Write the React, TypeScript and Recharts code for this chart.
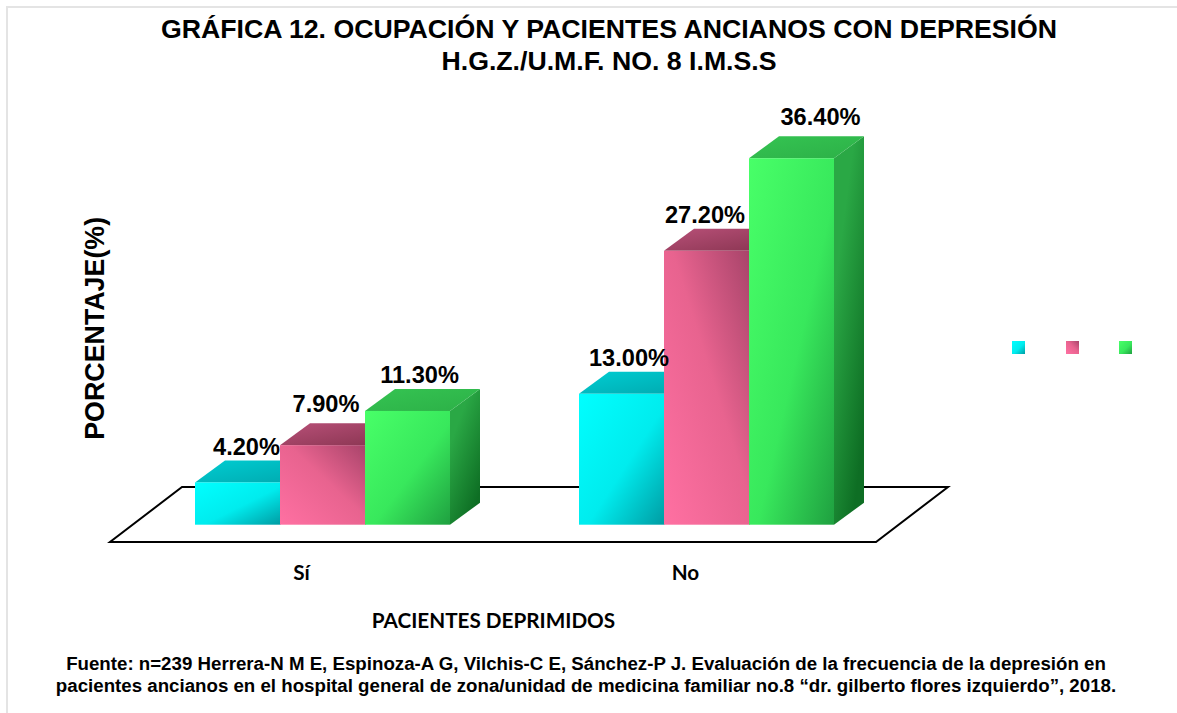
import React from "react";
import { BarChart, Bar, XAxis, YAxis, Legend, LabelList, Label, usePlotArea } from "recharts";

const categories = ["Sí", "No"];
const serieA = [4.2, 13.0];
const serieB = [7.9, 27.2];
const serieC = [11.3, 36.4];
const titleLines = ["GRÁFICA 12. OCUPACIÓN Y PACIENTES ANCIANOS CON DEPRESIÓN", "H.G.Z./U.M.F. NO. 8 I.M.S.S"];
const sourceLines = [
  "Fuente: n=239 Herrera-N M E, Espinoza-A G, Vilchis-C E, Sánchez-P J. Evaluación de la frecuencia de la depresión en",
  "pacientes ancianos en el hospital general de zona/unidad de medicina familiar no.8 “dr. gilberto flores izquierdo”, 2018.",
];

const data = categories.map((c, i) => ({ c, a: serieA[i], b: serieB[i], c3: serieC[i] }));

const DX = 30;
const DY = 22;
const ARIAL = "'Liberation Sans', Arial, sans-serif";
const CAL = "Lato, sans-serif";

const palettes: Record<string, any> = {
  a: { f: ["#00FFFF", "#00ECEE", "#009CA3"], t: ["#00CDD2", "#00A8AE"], s: ["#00B0B5", "#006F75"], dir: [0, 0, 1, 1] },
  b: { f: ["#FF70A2", "#E8638F", "#A8446A"], t: ["#B85078", "#883450"], s: ["#A84468", "#6E2A44"], dir: [0, 1, 1, 0] },
  c: { f: ["#48FF68", "#38E85C", "#1FA040"], t: ["#35C452", "#2CB047"], s: ["#2AA845", "#0E6E24"], dir: [0, 0, 1, 1] },
};

function Defs() {
  return (
    <defs>
      {Object.keys(palettes).map((k) => {
        const p = palettes[k];
        return (
          <React.Fragment key={k}>
            <linearGradient id={`f-${k}`} x1={p.dir[0]} y1={p.dir[1]} x2={p.dir[2]} y2={p.dir[3]}>
              <stop offset="0" stopColor={p.f[0]} />
              <stop offset="0.55" stopColor={p.f[1]} />
              <stop offset="1" stopColor={p.f[2]} />
            </linearGradient>
            <linearGradient id={`t-${k}`} x1="0" y1="0" x2="1" y2="1">
              <stop offset="0" stopColor={p.t[0]} />
              <stop offset="1" stopColor={p.t[1]} />
            </linearGradient>
            <linearGradient id={`s-${k}`} x1="0" y1="0" x2="0.6" y2="1">
              <stop offset="0.3" stopColor={p.s[0]} />
              <stop offset="1" stopColor={p.s[1]} />
            </linearGradient>
          </React.Fragment>
        );
      })}
    </defs>
  );
}

const Box3D = (k: string) => (props: any) => {
  const { x, y, width: w, height: h } = props;
  const r = x + w;
  const b = y + h;
  return (
    <g>
      <polygon points={`${r},${y} ${r + DX},${y - DY} ${r + DX},${b - DY} ${r},${b}`} fill={`url(#s-${k})`} />
      <polygon points={`${x},${y} ${x + DX},${y - DY} ${r + DX},${y - DY} ${r},${y}`} fill={`url(#t-${k})`} />
      <rect x={x} y={y} width={w} height={h} fill={`url(#f-${k})`} />
    </g>
  );
};

function Floor() {
  const p = usePlotArea();
  if (!p) return null;
  const left = p.x - 20.5;
  const right = p.x + p.width - 22.5;
  const base = p.y + p.height + 17.3;
  const top = base - 55;
  return (
    <polygon
      points={`${left},${base} ${right},${base} ${right + 72},${top} ${left + 72},${top}`}
      fill="#fff"
      stroke="#000"
      strokeWidth={2}
    />
  );
}

const valueLabel = (offsets: number[][]) => (props: any) => {
  const { x, y, width, index, value } = props;
  const [ox, oy] = offsets[index];
  return (
    <text
      x={x + width / 2 + ox}
      y={y - DY + oy}
      textAnchor="middle"
      fontFamily={ARIAL}
      fontWeight={700}
      fontSize={23.6}
      fill="#000"
    >
      {`${Number(value).toFixed(2)}%`}
    </text>
  );
};

const labelOffsets = {
  a: [[9, -5], [7.5, -6]],
  b: [[3.5, -11], [-1.5, -6]],
  c: [[12, -6], [29, -11]],
};

const legendKeys = ["a", "b", "c"];

function LegendSwatches() {
  return (
    <div style={{ position: "relative", width: 1177, height: 0 }}>
      {legendKeys.map((k, i) => (
        <svg
          key={k}
          width={13}
          height={13}
          style={{ position: "absolute", left: [1012, 1066, 1119][i], top: 341 }}
        >
          <rect width={13} height={13} fill={`url(#f-${k})`} />
        </svg>
      ))}
    </div>
  );
}

export default function App() {
  return (
    <div style={{ position: "absolute", left: 0, top: 0, width: 1177, height: 713, background: "#fff", overflow: "hidden" }}>
      <div style={{ position: "absolute", left: 6, top: 6, width: 1.5, height: 707, background: "#e4e4e4" }} />
      <div style={{ position: "absolute", left: 6, top: 6, width: 1171, height: 1.5, background: "#e4e4e4" }} />
      <BarChart
        width={1177}
        height={713}
        data={data}
        margin={{ top: 122, right: 278.5, bottom: 0, left: 0 }}
        barGap={0}
        barCategoryGap={64.5}
        style={{ position: "absolute", left: 0, top: 0 }}
      >
        <Defs />
        <Floor />
        <YAxis width={130.5} domain={[0, 40]} tick={false} axisLine={false} tickLine={false}>
          <Label
            value="PORCENTAJE(%)"
            angle={-90}
            position="center"
            dx={29}
            dy={5}
            style={{ fontFamily: ARIAL, fontWeight: 700, fontSize: 26.8, fill: "#000" }}
          />
        </YAxis>
        <XAxis
          dataKey="c"
          height={188.3}
          axisLine={false}
          tickLine={false}
          tickMargin={34.5}
          tick={{ fontFamily: CAL, fontWeight: 700, fontSize: 20.7, fill: "#000", dx: -21 }}
          interval={0}
        >
          <Label
            value="PACIENTES DEPRIMIDOS"
            position="insideTop"
            dx={-21}
            dy={83.3}
            style={{ fontFamily: CAL, fontWeight: 700, fontSize: 20.7, fill: "#000" }}
          />
        </XAxis>
        <XAxis dataKey="c" xAxisId="labels" hide />
        <Bar dataKey="a" fill="#00FFFF" isAnimationActive={false} shape={Box3D("a")} />
        <Bar dataKey="b" fill="#FF70A2" isAnimationActive={false} shape={Box3D("b")} />
        <Bar dataKey="c3" fill="#48FF68" isAnimationActive={false} shape={Box3D("c")} />
        <Bar dataKey="a" xAxisId="labels" fill="none" legendType="none" isAnimationActive={false}>
          <LabelList dataKey="a" content={valueLabel(labelOffsets.a)} />
        </Bar>
        <Bar dataKey="b" xAxisId="labels" fill="none" legendType="none" isAnimationActive={false}>
          <LabelList dataKey="b" content={valueLabel(labelOffsets.b)} />
        </Bar>
        <Bar dataKey="c3" xAxisId="labels" fill="none" legendType="none" isAnimationActive={false}>
          <LabelList dataKey="c3" content={valueLabel(labelOffsets.c)} />
        </Bar>
        {titleLines.map((t, i) => (
          <text key={t} x={609} y={37.5 + i * 32} textAnchor="middle" fontFamily={ARIAL} fontWeight={700} fontSize={26.7} fill="#000">
            {t}
          </text>
        ))}
        {sourceLines.map((t, i) => (
          <text key={t} x={586} y={669.5 + i * 22} textAnchor="middle" fontFamily={ARIAL} fontWeight={700} fontSize={18.7} fill="#000">
            {t}
          </text>
        ))}
        <Legend content={() => <LegendSwatches />} wrapperStyle={{ left: 0, top: 0, bottom: "auto", width: 1177 }} />
      </BarChart>
    </div>
  );
}
